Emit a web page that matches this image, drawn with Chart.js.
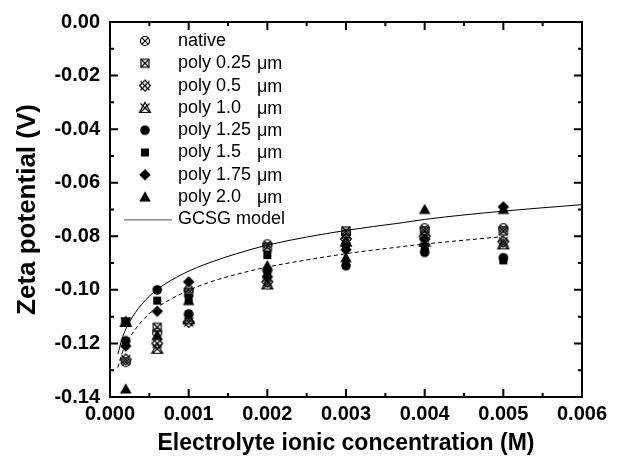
<!DOCTYPE html>
<html>
<head>
<meta charset="utf-8">
<script src="https://cdn.jsdelivr.net/npm/chart.js@4"></script>
<style>
  html, body { margin:0; padding:0; background:#fff; }
  canvas { display:block; }
</style>
</head>
<body>
<canvas id="c" width="621" height="463"></canvas>
<script>
// concentrations (M)
const xVals = [0.0002, 0.0006, 0.001, 0.002, 0.003, 0.004, 0.005];

// zeta potential (V) per sample
const native = [-0.127, -0.116, -0.100, -0.083, -0.079, -0.077, -0.077];
const poly025 = [-0.112, -0.114, -0.101, -0.084, -0.078, -0.078, -0.078];
const poly05 = [-0.126, -0.120, -0.112, -0.097, -0.081, -0.080, -0.082];
const poly10 = [-0.112, -0.122, -0.111, -0.098, -0.082, -0.082, -0.083];
const poly125 = [-0.119, -0.100, -0.109, -0.093, -0.091, -0.086, -0.088];
const poly15 = [-0.112, -0.104, -0.103, -0.087, -0.084, -0.084, -0.089];
const poly175 = [-0.121, -0.108, -0.097, -0.095, -0.085, -0.081, -0.069];
const poly20 = [-0.137, -0.117, -0.104, -0.091, -0.088, -0.070, -0.070];

// GCSG model curve (solid)
const modelX = [0.0001, 0.00015, 0.0002, 0.00025, 0.0004, 0.0006, 0.00093, 0.00127, 0.00161, 0.002, 0.003, 0.0037, 0.004, 0.005, 0.006];
const modelY = [-0.124, -0.1185, -0.1147, -0.1118, -0.1055, -0.0999, -0.0940, -0.0898, -0.0865, -0.0833, -0.0778, -0.0750, -0.0737, -0.0706, -0.0682];
// second fit (dashed)
const dashX = [0.0001, 0.00015, 0.0002, 0.00025, 0.00042, 0.0006, 0.00093, 0.00127, 0.00161, 0.002, 0.00229, 0.003, 0.0037, 0.004, 0.005];
const dashY = [-0.129, -0.124, -0.1205, -0.1178, -0.1112, -0.1066, -0.1011, -0.0971, -0.0942, -0.0915, -0.0899, -0.0865, -0.0839, -0.0829, -0.0801];

const yTicks = [0, -0.02, -0.04, -0.06, -0.08, -0.10, -0.12, -0.14];
const xTicks = [0, 0.001, 0.002, 0.003, 0.004, 0.005, 0.006];

function marker(kind){
  const s = 14, c = document.createElement('canvas');
  c.width = s; c.height = s;
  const g = c.getContext('2d');
  g.strokeStyle = '#000'; g.fillStyle = '#000'; g.lineWidth = 1.2;
  const m = s/2;
  const X = (r)=>{ g.beginPath(); g.moveTo(m-r,m-r); g.lineTo(m+r,m+r); g.moveTo(m+r,m-r); g.lineTo(m-r,m+r); g.stroke(); };
  if (kind==='native'){ g.beginPath(); g.arc(m,m,4.5,0,Math.PI*2); g.stroke(); X(3.3); }
  else if (kind==='sqx'){ g.strokeRect(m-4,m-4,8,8); X(4); }
  else if (kind==='dx'){ g.beginPath(); g.moveTo(m,m-5.5); g.lineTo(m+5.5,m); g.lineTo(m,m+5.5); g.lineTo(m-5.5,m); g.closePath(); g.stroke(); X(4.5); }
  else if (kind==='tx'){ g.beginPath(); g.moveTo(m,m-5.5); g.lineTo(m+5.5,m+4.5); g.lineTo(m-5.5,m+4.5); g.closePath(); g.stroke(); X(4.5); }
  else if (kind==='circle'){ g.beginPath(); g.arc(m,m,4.8,0,Math.PI*2); g.fill(); }
  else if (kind==='square'){ g.fillRect(m-4,m-4,8,8); }
  else if (kind==='diamond'){ g.beginPath(); g.moveTo(m,m-5.8); g.lineTo(m+5.8,m); g.lineTo(m,m+5.8); g.lineTo(m-5.8,m); g.closePath(); g.fill(); }
  else if (kind==='tri'){ g.beginPath(); g.moveTo(m,m-5.8); g.lineTo(m+5.8,m+4.6); g.lineTo(m-5.8,m+4.6); g.closePath(); g.fill(); }
  return c;
}

const series = [
  { label:'native', pre:'native', data:native, kind:'native' },
  { label:'poly 0.25 \u03bcm', pre:'poly 0.25', data:poly025, kind:'sqx' },
  { label:'poly 0.5 \u03bcm', pre:'poly 0.5', data:poly05, kind:'dx' },
  { label:'poly 1.0 \u03bcm', pre:'poly 1.0', data:poly10, kind:'tx' },
  { label:'poly 1.25 \u03bcm', pre:'poly 1.25', data:poly125, kind:'circle' },
  { label:'poly 1.5 \u03bcm', pre:'poly 1.5', data:poly15, kind:'square' },
  { label:'poly 1.75 \u03bcm', pre:'poly 1.75', data:poly175, kind:'diamond' },
  { label:'poly 2.0 \u03bcm', pre:'poly 2.0', data:poly20, kind:'tri' }
];
series.forEach(s => s.img = marker(s.kind));

const datasets = series.map(s => ({
  label: s.label,
  data: xVals.map((x,i)=>({ x, y: s.data[i] })),
  pointStyle: s.img, pointRadius: 7, showLine: false
}));
datasets.push({
  label:'GCSG model', type:'line', data: modelX.map((x,i)=>({x, y:modelY[i]})),
  borderColor:'#000', borderWidth:1, pointRadius:0, cubicInterpolationMode:'monotone', fill:false
});
datasets.push({
  label:'fit', type:'line', data: dashX.map((x,i)=>({x, y:dashY[i]})),
  borderColor:'#000', borderWidth:1, borderDash:[4,3], pointRadius:0, cubicInterpolationMode:'monotone', fill:false
});

const frame = {
  id:'frame',
  afterDatasetsDraw(chart){
    const { ctx, chartArea:a, scales:{ x, y } } = chart;
    ctx.save();
    ctx.strokeStyle = '#000'; ctx.lineWidth = 2;
    ctx.strokeRect(a.left, a.top, a.right-a.left, a.bottom-a.top);
    ctx.beginPath();
    xTicks.forEach((v,i)=>{
      const px = x.getPixelForValue(v);
      ctx.moveTo(px, a.bottom); ctx.lineTo(px, a.bottom-8);
      ctx.moveTo(px, a.top); ctx.lineTo(px, a.top+8);
      if (i < xTicks.length-1){
        const mx = x.getPixelForValue((v + xTicks[i+1])/2);
        ctx.moveTo(mx, a.bottom); ctx.lineTo(mx, a.bottom-4);
        ctx.moveTo(mx, a.top); ctx.lineTo(mx, a.top+4);
      }
    });
    yTicks.forEach((v,i)=>{
      const py = y.getPixelForValue(v);
      ctx.moveTo(a.left, py); ctx.lineTo(a.left+8, py);
      ctx.moveTo(a.right, py); ctx.lineTo(a.right-8, py);
      if (i < yTicks.length-1){
        const my = y.getPixelForValue((v + yTicks[i+1])/2);
        ctx.moveTo(a.left, my); ctx.lineTo(a.left+4, my);
        ctx.moveTo(a.right, my); ctx.lineTo(a.right-4, my);
      }
    });
    ctx.stroke();
    ctx.restore();
  },
  afterDraw(chart){
    const ctx = chart.ctx;
    ctx.save();
    ctx.fillStyle = '#000';
    ctx.font = '18px "Liberation Sans"';
    ctx.textBaseline = 'middle';
    series.forEach((s,i)=>{
      const yy = 41 + i*22.3;
      ctx.drawImage(s.img, 145 - 7, yy - 7);
      ctx.fillText(s.pre, 178, yy);
      if (s.kind !== 'native') ctx.fillText('\u03bcm', 257, yy + 1);
    });
    const yl = 41 + 8*22.3;
    ctx.strokeStyle = '#555'; ctx.lineWidth = 1;
    ctx.beginPath(); ctx.moveTo(124, yl + 0.5); ctx.lineTo(172, yl + 0.5); ctx.stroke();
    ctx.fillText('GCSG model', 178, yl);
    ctx.restore();
  }
};

const tickFont = { family:'"Liberation Sans", Arial, sans-serif', size:20, weight:'bold' };

new Chart(document.getElementById('c'), {
  type:'scatter',
  data:{ datasets },
  plugins:[frame],
  options:{
    responsive:false, animation:false,
    layout:{ padding:{ top:18, right:39, left:0, bottom:0 } },
    plugins:{ legend:{ display:false }, tooltip:{ enabled:false } },
    scales:{
      x:{
        type:'linear', min:0, max:0.006,
        afterBuildTicks: s => { s.ticks = xTicks.map(v => ({ value:v })); },
        afterFit: s => { s.height = 66; },
        grid:{ display:false, drawTicks:false }, border:{ display:false },
        ticks:{ color:'#000', font:tickFont, padding:5, maxRotation:0, callback: v => Number(v).toFixed(3) },
        title:{ display:true, text:'Electrolyte ionic concentration (M)', color:'#000',
          font:{ family:'"Liberation Sans", Arial, sans-serif', size:23, weight:'bold' }, padding:{ top:0, bottom:6 } }
      },
      y:{
        type:'linear', min:-0.14, max:0,
        afterBuildTicks: s => { s.ticks = yTicks.map(v => ({ value:v })); },
        afterFit: s => { s.width = 110; },
        grid:{ display:false, drawTicks:false }, border:{ display:false },
        ticks:{ color:'#000', font:tickFont, padding:10, callback: v => Number(v).toFixed(2) },
        title:{ display:true, text:'Zeta potential (V)', color:'#000',
          font:{ family:'"Liberation Sans", Arial, sans-serif', size:26, weight:'bold' }, padding:{ top:12, bottom:0 } }
      }
    }
  }
});
</script>
</body>
</html>
